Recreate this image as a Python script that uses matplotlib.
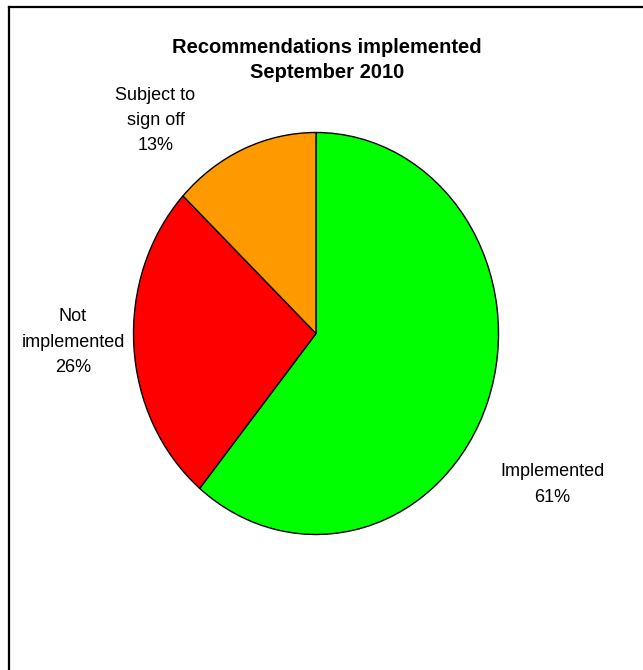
import matplotlib.pyplot as plt
from matplotlib.lines import Line2D

labels = ["Implemented", "Not\nimplemented", "Subject to\nsign off"]
shares = [61, 26, 13]
colors = ["#00FF00", "#FF0000", "#FF9900"]

W, H = 643, 670
fig = plt.figure(figsize=(W / 100, H / 100), dpi=100)
plt.rcParams['font.family'] = ['Liberation Sans', 'DejaVu Sans']

# chart frame: only the top and left edges fall inside the image
fy = 1 - 6.5 / H
fx = 8.5 / W
fig.add_artist(Line2D([fx, 1.01], [fy, fy], transform=fig.transFigure,
                      color="black", linewidth=1.6))
fig.add_artist(Line2D([fx, fx], [-0.01, fy], transform=fig.transFigure,
                      color="black", linewidth=1.6))

# pie box in pixels: centre (316, 333.5), rx 182.5, ry 201
cx, cy, rx, ry = 316, 333.5, 182.5, 201
ax = fig.add_axes([(cx - rx) / W, (H - cy - ry) / H, 2 * rx / W, 2 * ry / H])
wedges, _ = ax.pie(shares, colors=colors, startangle=90, counterclock=False,
                   wedgeprops=dict(edgecolor="black", linewidth=1.0))
ax.set_aspect('auto')
ax.set_xlim(-1, 1)
ax.set_ylim(-1, 1)
ax.axis('off')

# data labels, placed outside the pie like the original (pixel centres)
label_px = [(552, 484.5), (73, 342), (155.5, 120.5)]
for lab, val, (px, py) in zip(labels, shares, label_px):
    fig.text(px / W, 1 - py / H, f"{lab}\n{val}%", ha="center", va="center",
             fontsize=13, linespacing=1.65)

fig.text(327 / W, 1 - 60 / H, "Recommendations implemented\nSeptember 2010",
         ha="center", va="center", fontsize=14.5, fontweight="bold",
         linespacing=1.45)

plt.savefig("out.png", dpi=100)
